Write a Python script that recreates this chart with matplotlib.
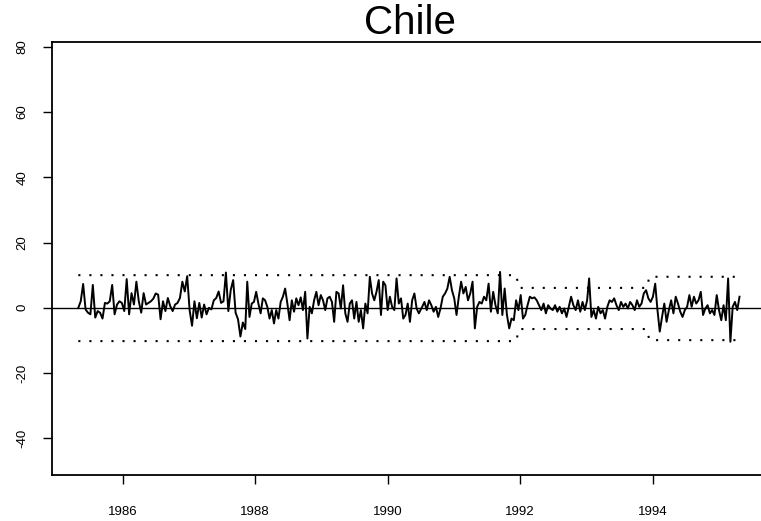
import numpy as np
import matplotlib.pyplot as plt

plt.rcParams['font.family'] = ['Liberation Sans', 'DejaVu Sans']

# weekly returns, in four stretches of time
years_1 = (1985.33, 1987.85)
chile_1 = [0, 2, 7.3, -0.5, -1.5, -2, 7, -3, -1, -1.5, -3.3, 1.5, 1.3, 2, 7, -2,
           1, 2, 1.5, -1, 8.8, -2, 4.5, 1, 8, 2, -1.5, 4.5, 1, 1.5, 2, 2.8, 4.4,
           4, -3.5, 2, -1, 3, 0.5, -1, 1, 1.5, 3, 8, 5, 9.7, -0.7, -5.5, 2, -3.2,
           1.5, -3, 1, -2, 0, -0.5, 2.3, 3, 5, 1.5, 2, 10.8, -1, 5.5, 8.5, -1.5,
           -3.5, -8.8, -4.5, -6.5]

years_2 = (1987.88, 1990.47)
chile_2 = [8, -2.8, 1.3, 1.8, 4.9, 1.3, -1.7, 2.9, 2.3, 0.3, -3.3, -0.7, -4.8,
           -0.7, -3.3, 1.8, 3.4, 5.9, 1.3, -3.8, 2.3, -1.2, 2.9, 0.8, 3.2, -0.7,
           4.9, -9.4, 0.3, -1.7, 2.3, 4.9, 0.8, 3.9, 2.3, -0.7, 2.9, 3.4, 1.8,
           -4.3, 4.9, 4.4, -0.2, 6.9, -1.7, -4.3, 1.3, 2.3, -3.3, 1.8, -4.3, -0.7,
           -6.3, 1.3, -1.7, 9.5, 4.4, 2.3, 4.9, 8.5, -2.2, 8, 6.9, -0.7, 3.4,
           0.3, -0.7, 9, 1.3, 2.9, -3.3, -2.2, 1.3, -4.3, 2.3, 4.4, -0.2, -1.7]

years_3 = (1990.52, 1993.01)
chile_3 = [0.3, 1.8, -0.7, 2.3, 0.8, -1.2, 0.3, -2.8, -0.2, 3.4, 4.4, 5.9, 9.5,
           5.4, 2.9, -2.2, 3.4, 8, 4.4, 6.4, 2.3, 4.4, 8, -6.3, 0.3, 1.8, 1.3,
           3.4, 2.3, 7.4, -1.2, 4.9, 0.8, -1.7, 11, -2.2, 5.9, -2.2, -6.3, -3.3,
           -3.8, 2.3, -0.7, 3.9, -3.3, -2.2, 0.8, 3.4, 2.9, 3.2, 2.3, 0.8, -0.7,
           1.3, -1.7, 0.8, -0.2, -0.7, 0.8, -1.2, 0.3, -1.7, -0.2, -2.8, 0.3,
           3.4, 0.8, -0.7, 2.3, -1.2, 1.8, -0.7, 2.3]

years_4 = (1993.04, 1995.31)
chile_4 = [9, -2.8, -0.7, -3.3, 0.3, -1.7, -0.7, -3.3, 0.3, 2.3, 1.8, 2.9, 0.8,
           -0.7, 1.8, 0.3, 1.3, -0.2, 1.8, 0.8, -0.7, 2.3, 0.3, 1.3, 4.4, 5.4,
           2.9, 1.8, 3.4, 7.4, -0.7, -7.3, -2.8, 1.3, -4.3, -0.7, 2.3, -1.7, 3.4,
           1.3, -1.2, -2.8, -0.7, 0.3, 3.9, 0.3, 3.4, 1.3, 2.3, 4.9, -2.2, -0.2,
           0.8, -1.7, -0.7, -2.2, 3.9, -0.7, -3.8, 0.8, -3.8, 9, -10.4, 0.3, 1.8,
           -0.7, 3.4]

# +/- band around the series (three regimes)
band_years = [1985.33, 1991.94, 1991.98, 1993.91, 1993.95, 1995.31]
band_upper = [10.0, 10.0, 6.1, 6.1, 9.5, 9.5]
band_lower = [-10.2, -10.2, -6.5, -6.5, -9.9, -9.9]

xticks = [1986, 1988, 1990, 1992, 1994]
yticks = [-40, -20, 0, 20, 40, 60, 80]

chunks = [(years_1, chile_1), (years_2, chile_2), (years_3, chile_3), (years_4, chile_4)]
t = np.concatenate([np.linspace(a, b, len(v)) for (a, b), v in chunks])
y = np.concatenate([v for _, v in chunks])

fig = plt.figure(figsize=(7.61, 5.21), dpi=100)
ax = fig.add_axes([0.0679, 0.0883, 0.9413, 0.8317])

ax.axhline(0, color='black', lw=1.0, zorder=1)
ax.plot(t, y, color='black', lw=1.4, zorder=3)
ax.plot(band_years, band_upper, color='black', lw=1.5, dashes=(1, 4.3), zorder=2)
ax.plot(band_years, band_lower, color='black', lw=1.5, dashes=(1, 4.3), zorder=2)

ax.set_xlim(1984.928, 1995.74)
ax.set_ylim(-51.2, 81.5)
ax.set_xticks(xticks)
ax.set_yticks(yticks)
ax.set_xticklabels([str(v) for v in xticks])
ax.set_yticklabels([str(v) for v in yticks], rotation=90, va='center')

for s in ax.spines.values():
    s.set_linewidth(1.3)
ax.tick_params(axis='both', direction='out', length=6.5, width=1.0, labelsize=9.5)
ax.tick_params(axis='x', pad=16)
ax.tick_params(axis='y', pad=10)

ax.set_title('Chile', fontsize=29, pad=1.5)

fig.savefig('out.png', dpi=100)
